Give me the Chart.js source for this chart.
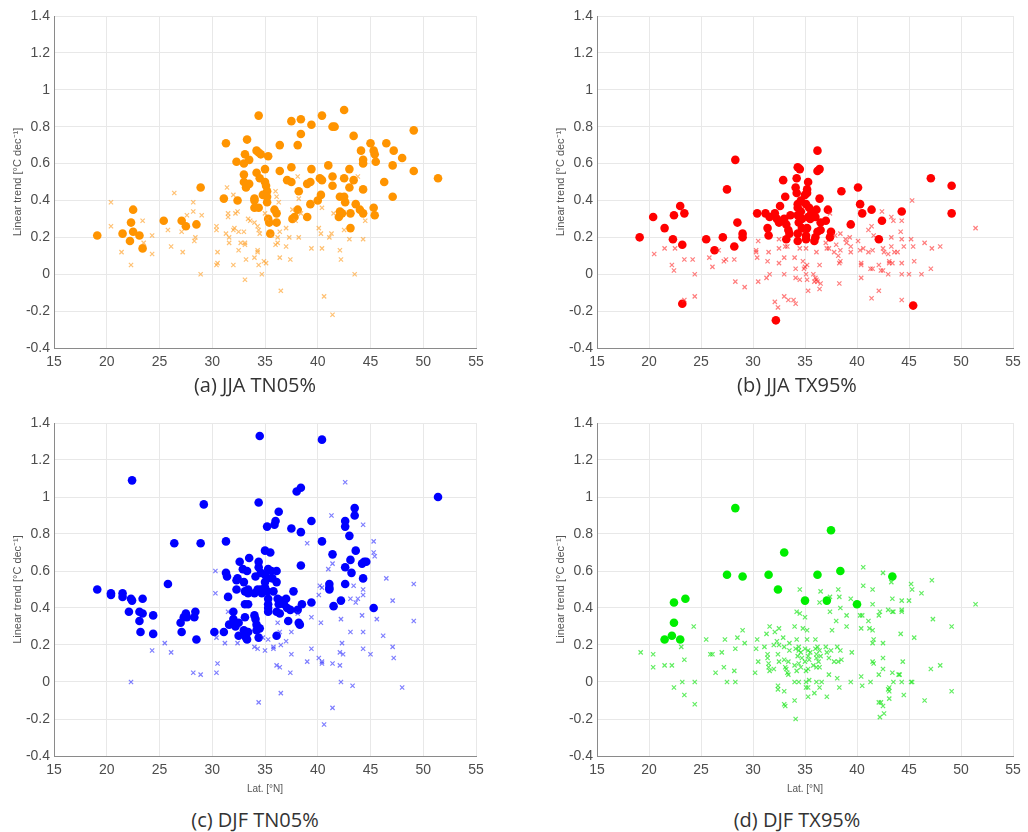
<!DOCTYPE html>
<html>
<head>
<meta charset="utf-8">
<script src="https://cdn.jsdelivr.net/npm/chart.js@4.4.1/dist/chart.umd.min.js"></script>
<style>
  body { margin: 0; background: #fff; }
  #wrap { position: relative; width: 1028px; height: 832px; overflow: hidden; }
  canvas { position: absolute; }
  .cap { position: absolute; width: 300px; margin-left: -150px; text-align: center;
         font-family: "Open Sans", sans-serif; font-size: 20px; color: #333; line-height: 24px; }
</style>
</head>
<body>
<div id="wrap">
  <canvas id="pa" width="490" height="400" style="left:0;top:0"></canvas>
  <canvas id="pb" width="485" height="400" style="left:543px;top:0"></canvas>
  <canvas id="pc" width="490" height="392" style="left:0;top:408px"></canvas>
  <canvas id="pd" width="485" height="392" style="left:543px;top:408px"></canvas>
  <div class="cap" style="left:255px;top:373px">(a) JJA TN05%</div>
  <div class="cap" style="left:797px;top:373px">(b) JJA TX95%</div>
  <div class="cap" style="left:255px;top:808px">(c) DJF TN05%</div>
  <div class="cap" style="left:797px;top:808px">(d) DJF TX95%</div>
</div>
<script>
// axis ticks
var latTicks = [15, 20, 25, 30, 35, 40, 45, 50, 55];
var trendTicks = [-0.4, -0.2, 0, 0.2, 0.4, 0.6, 0.8, 1, 1.2, 1.4];

// (a) JJA TN05% — [lat, trend]; sig = filled dots, non = crosses
var jjaTn05Sig = [
  [19.1,0.21],[21.5,0.22],[22.2,0.18],[22.3,0.28],[22.5,0.35],[22.5,0.23],[23.1,0.21],[23.4,0.14],
  [25.4,0.29],[27.1,0.29],[27.5,0.26],[28.5,0.27],[28.9,0.47],[31.1,0.41],[31.3,0.71],[32.3,0.61],
  [32.4,0.40],[33.0,0.54],[33.1,0.65],[33.0,0.60],[33.0,0.50],[33.2,0.47],[33.3,0.73],[33.5,0.62],
  [33.5,0.49],[34.0,0.41],[34.0,0.40],[34.0,0.36],[34.2,0.55],[34.2,0.67],[34.4,0.86],[34.4,0.66],
  [34.5,0.52],[34.6,0.65],[34.4,0.36],[34.8,0.43],[35.0,0.57],[35.0,0.50],[35.1,0.48],[35.2,0.45],
  [35.2,0.42],[35.2,0.39],[35.3,0.64],[35.3,0.30],[35.4,0.28],[35.5,0.22],[35.9,0.35],[36.1,0.33],
  [36.1,0.28],[36.4,0.56],[36.4,0.70],[37.1,0.51],[37.5,0.50],[37.5,0.58],[37.5,0.83],[37.6,0.30],
  [37.8,0.31],[38.1,0.70],[38.2,0.45],[38.1,0.35],[38.4,0.84],[38.4,0.76],[39.0,0.31],[39.0,0.49],
  [39.3,0.50],[39.4,0.81],[39.4,0.57],[39.3,0.38],[40.0,0.40],[40.2,0.52],[40.4,0.51],[40.3,0.43],
  [40.4,0.86],[41.0,0.59],[41.4,0.80],[41.6,0.80],[41.4,0.53],[41.4,0.48],[42.0,0.31],[42.1,0.34],
  [42.1,0.42],[42.3,0.33],[42.5,0.89],[42.5,0.52],[42.5,0.42],[42.6,0.39],[43.0,0.57],[43.0,0.47],
  [43.1,0.33],[43.1,0.25],[43.4,0.75],[43.4,0.51],[43.6,0.38],[44.1,0.67],[44.0,0.35],[44.3,0.33],
  [44.3,0.62],[44.3,0.60],[44.3,0.46],[45.0,0.71],[45.3,0.67],[45.3,0.36],[45.4,0.65],[45.5,0.61],
  [45.4,0.32],[46.3,0.50],[46.5,0.71],[47.1,0.59],[47.2,0.67],[47.1,0.42],[48.0,0.63],[49.1,0.78],
  [49.1,0.56],[51.4,0.52]
];
var jjaTn05Non = [
  [20.4,0.39],[20.4,0.26],[21.4,0.12],[22.3,0.05],[23.4,0.29],[23.5,0.17],[24.3,0.21],[24.3,0.11],
  [25.8,0.24],[26.1,0.15],[26.4,0.44],[27.1,0.23],[27.2,0.12],[27.6,0.32],[28.2,0.39],[28.2,0.34],
  [28.4,0.20],[28.3,0.18],[29.0,0.32],[28.9,0.00],[30.4,0.26],[30.4,0.24],[30.5,0.12],[30.4,0.05],
  [30.5,0.06],[31.4,0.47],[31.5,0.33],[31.5,0.31],[31.3,0.22],[31.6,0.20],[31.6,0.17],[32.0,0.43],
  [32.2,0.33],[32.4,0.34],[32.1,0.25],[32.0,0.24],[32.0,0.05],[32.5,0.23],[32.7,0.17],[32.5,0.13],
  [33.0,0.23],[33.1,0.17],[33.1,0.16],[33.1,-0.03],[33.2,0.08],[33.4,0.30],[33.6,0.29],[34.0,0.28],
  [34.0,0.09],[34.3,0.26],[34.4,0.24],[34.3,0.12],[34.3,0.13],[34.4,0.05],[34.7,0.00],[34.5,0.22],
  [34.9,0.07],[35.1,0.06],[35.0,0.33],[35.2,0.30],[35.6,0.21],[36.0,0.45],[36.1,0.42],[36.3,0.39],
  [36.0,0.16],[36.2,0.17],[36.2,0.20],[36.4,0.23],[36.4,0.09],[36.5,-0.09],[37.0,0.25],[37.0,0.15],
  [37.3,0.20],[37.4,0.08],[37.6,0.35],[37.9,0.29],[38.1,0.53],[38.2,0.41],[38.2,0.20],[38.4,0.33],
  [39.4,0.14],[40.1,0.25],[40.3,0.22],[40.4,0.36],[40.4,0.14],[40.6,-0.12],[41.1,0.20],[41.3,0.22],
  [41.4,-0.22],[41.5,0.33],[42.1,0.13],[42.2,0.08],[42.5,0.24],[43.0,0.19],[43.5,0.00],[44.3,0.19],
  [44.5,0.29],[43.8,0.53]
];

// (b) JJA TX95%
var jjaTx95Sig = [
  [19.1,0.20],[20.4,0.31],[21.5,0.25],[22.3,0.19],[22.4,0.32],[23.0,0.37],[23.2,0.16],[23.4,0.33],
  [23.2,-0.16],[25.5,0.19],[26.3,0.13],[27.1,0.20],[27.5,0.46],[28.2,0.15],[28.3,0.62],[28.5,0.28],
  [29.0,0.22],[29.0,0.20],[30.4,0.33],[31.2,0.33],[31.4,0.25],[31.5,0.21],[31.6,0.31],[32.1,0.33],
  [32.3,0.30],[32.5,0.28],[32.6,0.37],[32.9,0.51],[33.1,0.42],[33.0,0.30],[33.2,0.27],[33.2,0.19],
  [33.4,0.24],[33.5,0.22],[33.6,0.32],[34.1,0.47],[34.2,0.52],[34.2,0.44],[34.3,0.58],[34.5,0.57],
  [34.3,0.38],[34.3,0.36],[34.3,0.32],[34.4,0.28],[34.3,0.22],[34.3,0.18],[34.6,0.40],[34.6,0.34],
  [34.7,0.25],[34.7,0.30],[35.0,0.43],[35.1,0.38],[35.2,0.46],[35.2,0.44],[35.3,0.50],[35.3,0.31],
  [35.2,0.25],[35.1,0.21],[35.1,0.19],[35.4,0.36],[35.5,0.30],[35.6,0.33],[35.9,0.18],[36.0,0.20],
  [36.0,0.31],[36.1,0.35],[36.2,0.56],[36.2,0.67],[36.4,0.57],[36.4,0.41],[36.5,0.28],[36.5,0.24],
  [36.2,0.23],[37.0,0.29],[37.2,0.35],[37.4,0.20],[37.5,0.23],[38.5,0.45],[39.4,0.27],[40.1,0.47],
  [40.3,0.38],[40.5,0.33],[41.4,0.35],[42.1,0.19],[42.4,0.29],[44.3,0.34],[45.4,-0.17],[47.1,0.52],
  [49.1,0.48],[49.1,0.33],[32.2,-0.25]
];
var jjaTx95Non = [
  [20.5,0.11],[21.5,0.14],[22.2,0.05],[22.4,0.02],[22.5,0.14],[23.4,0.08],[23.4,-0.14],[24.2,0.08],
  [24.4,0.00],[24.4,-0.12],[25.8,0.09],[26.1,0.04],[26.7,0.13],[27.2,0.07],[27.4,0.08],[28.2,0.08],
  [28.3,-0.04],[29.2,-0.07],[30.3,0.13],[30.3,0.12],[30.4,0.09],[30.5,-0.04],[30.5,0.18],[31.4,0.07],
  [31.3,-0.02],[31.5,0.12],[31.6,0.00],[32.1,-0.15],[32.4,-0.18],[32.5,0.06],[32.5,0.14],[32.5,0.19],
  [33.0,-0.12],[33.0,0.09],[33.0,0.00],[33.1,0.15],[33.3,0.15],[33.4,-0.14],[33.9,-0.14],[34.1,-0.16],
  [34.0,0.09],[34.1,0.03],[34.1,-0.02],[34.5,-0.03],[34.5,0.14],[34.8,0.07],[34.9,0.03],[35.0,0.04],
  [35.1,0.00],[35.2,-0.03],[35.3,-0.09],[35.2,0.05],[35.1,0.14],[35.8,0.00],[35.9,-0.04],[36.0,-0.02],
  [36.1,-0.03],[36.2,-0.04],[36.4,-0.08],[36.4,0.05],[36.1,0.12],[36.5,-0.05],[37.0,0.17],[37.1,0.14],
  [37.3,0.14],[37.4,0.33],[37.8,0.12],[37.9,0.21],[38.0,0.16],[38.2,0.10],[38.3,0.06],[38.3,-0.05],
  [38.4,0.07],[38.4,0.13],[38.4,0.22],[38.9,0.19],[39.0,0.17],[39.3,0.20],[39.4,0.15],[39.4,0.12],
  [40.1,0.18],[40.3,0.13],[40.4,0.06],[40.4,0.05],[40.4,-0.02],[40.6,0.14],[41.1,0.24],[41.1,0.12],
  [41.3,0.03],[41.4,-0.13],[41.4,0.26],[41.5,0.03],[41.5,0.13],[41.6,0.21],[42.1,0.05],[42.1,-0.09],
  [42.3,0.02],[42.4,0.34],[42.5,0.14],[42.5,0.02],[42.6,0.12],[43.0,0.11],[43.0,0.00],[43.1,0.07],
  [43.1,0.06],[43.3,0.31],[43.3,0.20],[43.3,0.15],[43.4,0.06],[43.5,0.29],[43.6,0.12],[43.9,0.12],
  [44.2,0.23],[44.3,0.29],[44.3,0.19],[44.3,0.06],[44.3,0.00],[44.3,-0.14],[44.5,0.15],[45.0,0.00],
  [45.2,0.19],[45.4,0.15],[45.5,0.07],[45.3,0.40],[46.2,0.00],[46.5,0.17],[47.2,0.14],[47.1,0.03],
  [48.0,0.15],[51.4,0.25]
];

// (c) DJF TN05%
var djfTn05Sig = [
  [19.1,0.50],[20.4,0.48],[20.4,0.47],[21.5,0.48],[21.5,0.46],[22.1,0.38],[22.3,0.45],[22.4,0.44],
  [22.4,1.09],[23.1,0.38],[23.1,0.33],[23.2,0.27],[23.4,0.37],[23.4,0.45],[24.4,0.36],[24.4,0.26],
  [25.8,0.53],[26.4,0.75],[27.0,0.32],[27.1,0.27],[27.3,0.35],[27.5,0.37],[27.6,0.35],[28.3,0.35],
  [28.4,0.38],[28.5,0.23],[28.9,0.75],[29.2,0.96],[30.2,0.27],[31.1,0.27],[31.3,0.76],[31.3,0.59],
  [31.4,0.57],[31.5,0.46],[31.6,0.31],[32.0,0.38],[32.0,0.34],[32.2,0.30],[32.3,0.50],[32.3,0.55],
  [32.4,0.56],[32.5,0.32],[32.5,0.25],[32.6,0.65],[32.9,0.61],[33.0,0.54],[33.1,0.49],[33.1,0.42],
  [33.1,0.35],[33.0,0.28],[33.1,0.26],[33.2,0.24],[33.3,0.23],[33.3,0.60],[33.4,0.50],[33.4,0.48],
  [33.4,0.42],[33.4,0.27],[33.5,0.67],[34.0,0.48],[34.0,0.36],[34.1,0.34],[34.1,0.57],[34.2,0.31],
  [34.2,0.28],[34.3,0.50],[34.4,0.65],[34.4,0.62],[34.4,0.97],[34.4,0.24],[34.5,1.33],[34.5,0.29],
  [34.6,0.59],[34.6,0.50],[34.7,0.48],[35.0,0.58],[35.0,0.54],[35.0,0.51],[35.0,0.71],[35.2,0.56],
  [35.2,0.84],[35.3,0.61],[35.2,0.49],[35.3,0.45],[35.3,0.42],[35.3,0.40],[35.3,0.38],[35.5,0.70],
  [35.6,0.60],[35.7,0.56],[35.8,0.49],[35.9,0.85],[36.0,0.87],[36.1,0.60],[36.1,0.54],[36.1,0.38],
  [36.1,0.25],[36.2,0.45],[36.3,0.42],[36.3,0.92],[36.4,0.37],[36.5,0.44],[36.8,0.42],[37.0,0.45],
  [37.1,0.40],[37.2,0.33],[37.4,0.39],[37.5,0.83],[37.7,0.49],[38.0,1.03],[38.1,0.39],[38.2,0.32],
  [38.3,0.31],[38.4,1.05],[38.4,0.81],[38.4,0.63],[38.5,0.42],[39.4,0.87],[39.4,0.43],[40.4,1.31],
  [40.4,0.76],[41.1,0.53],[41.1,0.51],[41.1,0.50],[41.4,0.69],[41.5,0.41],[42.2,0.44],[42.6,0.87],
  [42.6,0.84],[42.6,0.62],[42.6,0.53],[43.0,0.79],[43.1,0.66],[43.2,0.59],[43.5,0.94],[43.5,0.90],
  [43.6,0.71],[44.2,0.64],[44.3,0.56],[44.4,0.65],[44.6,0.65],[45.3,0.40],[51.4,1.00]
];
var djfTn05Non = [
  [22.3,0.00],[24.3,0.17],[25.5,0.21],[26.1,0.16],[28.2,0.05],[28.9,0.04],[30.3,0.60],[30.3,0.48],
  [30.4,0.24],[30.5,0.10],[30.4,0.05],[31.2,0.21],[31.5,0.38],[32.4,0.21],[34.0,0.19],[34.3,0.18],
  [34.4,-0.11],[34.8,0.24],[35.0,0.17],[35.3,0.23],[35.8,0.18],[35.8,0.19],[36.1,0.09],[36.2,0.32],
  [36.4,0.27],[36.4,0.08],[36.5,0.20],[36.5,-0.06],[37.0,0.22],[37.5,0.27],[37.5,0.15],[37.4,0.05],
  [38.1,0.37],[39.0,0.75],[39.0,0.11],[39.4,0.35],[39.4,0.18],[40.1,0.47],[40.1,0.13],[40.2,0.52],
  [40.4,0.51],[40.3,0.32],[40.4,0.11],[40.4,0.10],[40.6,-0.23],[41.0,0.61],[41.3,0.90],[41.4,0.64],
  [41.4,0.10],[41.4,-0.14],[42.1,0.16],[42.1,0.09],[42.2,0.34],[42.3,0.21],[42.4,0.15],[42.2,0.00],
  [42.6,1.08],[43.1,0.45],[43.1,0.27],[43.4,0.52],[43.3,-0.02],[43.6,0.43],[43.8,0.45],[44.2,0.36],
  [44.3,0.47],[44.3,0.50],[44.3,0.85],[44.3,0.27],[44.3,0.18],[45.0,0.15],[45.3,0.76],[45.3,0.70],
  [45.4,0.68],[45.6,0.34],[46.2,0.25],[46.5,0.56],[47.1,0.44],[47.1,0.19],[47.2,0.13],[48.0,-0.03],
  [49.1,0.53],[49.1,0.33]
];

// (d) DJF TX95%
var djfTx95Sig = [
  [21.5,0.23],[22.2,0.25],[22.4,0.32],[22.4,0.43],[23.0,0.23],[23.5,0.45],[27.5,0.58],[28.3,0.94],
  [29.0,0.57],[31.5,0.58],[32.4,0.50],[33.0,0.70],[35.0,0.44],[36.2,0.58],[37.1,0.44],[37.5,0.82],
  [38.4,0.60],[40.0,0.42],[43.4,0.57]
];
var djfTx95Non = [
  [19.2,0.16],[20.4,0.15],[20.4,0.08],[21.5,0.09],[22.2,0.09],[22.4,-0.03],[23.1,0.19],[23.2,0.00],
  [23.4,0.12],[23.4,-0.07],[24.3,0.30],[24.4,0.00],[24.4,-0.12],[25.5,0.23],[25.9,0.15],[26.1,0.15],
  [26.4,0.05],[27.0,0.16],[27.3,0.23],[27.2,0.08],[27.5,0.00],[28.2,0.06],[28.3,0.18],[28.3,0.00],
  [28.5,0.24],[29.0,0.28],[29.2,0.21],[30.2,0.05],[30.3,0.18],[30.4,0.23],[30.5,0.11],[31.1,0.19],
  [31.3,0.26],[31.4,0.15],[31.4,0.13],[31.5,0.10],[31.5,0.08],[31.6,0.06],[31.6,0.30],[32.0,0.20],
  [32.1,0.27],[32.0,0.07],[32.3,0.22],[32.4,0.15],[32.5,0.29],[32.5,0.11],[32.4,-0.02],[32.4,-0.04],
  [32.5,0.20],[32.9,0.24],[33.0,0.19],[33.0,0.12],[33.0,-0.05],[33.0,-0.12],[33.1,-0.13],[33.1,0.08],
  [33.2,0.07],[33.3,0.05],[33.4,0.04],[33.4,0.11],[33.5,0.21],[33.5,0.17],[34.0,0.30],[34.0,0.09],
  [34.0,0.00],[34.0,-0.10],[34.1,0.18],[34.2,0.38],[34.2,0.23],[34.2,0.06],[34.1,-0.20],[34.3,0.14],
  [34.4,0.19],[34.4,0.17],[34.4,0.10],[34.4,0.00],[34.5,0.50],[34.5,0.37],[34.6,0.16],[34.6,0.08],
  [34.7,0.13],[34.8,0.29],[35.0,0.35],[35.0,0.18],[35.0,0.11],[35.1,0.06],[35.1,0.00],[35.1,-0.03],
  [35.2,0.28],[35.2,0.23],[35.3,0.17],[35.3,0.14],[35.3,0.07],[35.3,-0.03],[35.4,0.12],[35.4,0.01],
  [35.3,-0.08],[35.5,0.16],[35.8,0.09],[35.9,-0.06],[36.0,0.23],[36.0,0.18],[36.1,0.15],[36.1,0.13],
  [36.1,0.08],[36.1,0.00],[36.2,0.19],[36.3,0.11],[36.4,0.17],[36.4,0.08],[36.4,-0.03],[36.4,0.43],
  [36.5,0.49],[36.5,0.14],[36.6,0.00],[37.0,0.19],[37.1,0.16],[37.1,-0.08],[37.3,0.13],[37.3,0.04],
  [37.4,0.46],[37.4,0.38],[37.5,0.17],[37.6,0.28],[37.8,0.11],[38.0,0.33],[38.1,0.19],[38.1,0.02],
  [38.2,0.50],[38.2,0.11],[38.3,0.46],[38.3,-0.03],[38.4,0.17],[38.4,0.40],[38.5,0.12],[39.0,0.36],
  [39.0,0.30],[39.4,0.45],[39.5,0.16],[39.4,0.00],[40.3,0.36],[40.4,0.29],[40.4,0.03],[40.5,-0.02],
  [40.6,0.62],[40.6,0.52],[40.5,0.36],[41.1,0.33],[41.2,0.29],[41.3,0.00],[41.5,0.50],[41.5,0.42],
  [41.5,0.28],[41.6,0.23],[41.5,0.21],[41.5,0.11],[41.6,0.10],[42.1,0.36],[42.2,0.38],[42.1,0.04],
  [42.1,-0.11],[42.2,-0.19],[42.3,-0.11],[42.5,0.59],[42.5,0.21],[42.5,0.13],[42.5,0.07],[42.5,-0.13],
  [42.6,-0.17],[43.0,0.39],[43.0,-0.04],[43.1,-0.05],[43.1,-0.09],[43.1,-0.03],[43.3,0.54],[43.4,0.45],
  [43.4,0.38],[43.5,0.38],[43.4,0.05],[43.5,0.00],[44.0,0.04],[44.1,0.04],[44.2,0.26],[44.3,0.39],
  [44.3,0.38],[44.3,0.44],[44.4,0.11],[44.3,0.00],[44.5,-0.07],[45.0,0.44],[45.2,0.53],[45.3,0.50],
  [45.2,0.00],[45.3,0.00],[45.5,0.24],[46.2,0.48],[46.5,-0.10],[47.1,0.07],[47.2,0.55],[47.3,0.34],
  [48.0,0.09],[49.1,0.30],[49.1,-0.05],[51.4,0.42]
];

function pts(arr) {
  return arr.map(function (p) { return { x: p[0], y: p[1] }; });
}

function panel(id, sig, non, dot, cross, yW, xH, padTop, padRight, xTitle) {
  var el = document.getElementById(id);
  new Chart(el, {
    type: 'scatter',
    data: {
      datasets: [
        { data: pts(non), pointStyle: 'crossRot', radius: 3, borderWidth: 1.2,
          borderColor: cross, backgroundColor: cross },
        { data: pts(sig), pointStyle: 'circle', radius: 4.3, borderWidth: 0,
          backgroundColor: dot, borderColor: dot }
      ]
    },
    options: {
      responsive: false,
      animation: false,
      events: [],
      layout: { padding: { top: padTop, right: padRight, left: 0, bottom: 0 } },
      plugins: { legend: { display: false }, tooltip: { enabled: false } },
      scales: {
        x: {
          type: 'linear', min: 15, max: 55,
          afterBuildTicks: function (s) { s.ticks = latTicks.map(function (v) { return { value: v }; }); },
          afterFit: function (s) { s.height = xH; },
          grid: { color: '#e8e8e8', drawTicks: false },
          border: { display: true, color: '#8a8a8a', width: 1 },
          ticks: { padding: 6, color: '#4d4d4d', font: { family: 'Liberation Sans', size: 14 }, maxRotation: 0 },
          title: { display: !!xTitle, text: 'Lat. [\u00b0N]', color: '#555',
                   font: { family: 'Liberation Sans', size: 10 }, padding: { top: 0, bottom: 5 } }
        },
        y: {
          type: 'linear', min: -0.4, max: 1.4,
          afterBuildTicks: function (s) { s.ticks = trendTicks.map(function (v) { return { value: v }; }); },
          afterFit: function (s) { s.width = yW; },
          grid: { color: '#e8e8e8', drawTicks: false },
          border: { display: true, color: '#8a8a8a', width: 1 },
          ticks: { padding: 4, color: '#4d4d4d', font: { family: 'Liberation Sans', size: 14 },
                   callback: function (v) { return String(+Number(v).toFixed(1)); } },
          title: { display: true, text: 'Linear trend [\u00b0C dec\u207b\u00b9]', color: '#555',
                   font: { family: 'Liberation Sans', size: 11 }, padding: { top: 11, bottom: 0 } }
        }
      }
    }
  });
}

panel('pa', jjaTn05Sig, jjaTn05Non, '#ff9400', 'rgba(255,160,40,0.65)', 54, 52, 16, 14, false);
panel('pb', jjaTx95Sig, jjaTx95Non, '#ff0000', 'rgba(255,40,40,0.6)', 54, 52, 16, 15, false);
panel('pc', djfTn05Sig, djfTn05Non, '#0000ff', 'rgba(40,40,255,0.6)', 54, 44, 15, 14, true);
panel('pd', djfTx95Sig, djfTx95Non, '#00ee00', 'rgba(30,230,30,0.7)', 54, 44, 15, 15, true);
</script>
</body>
</html>
